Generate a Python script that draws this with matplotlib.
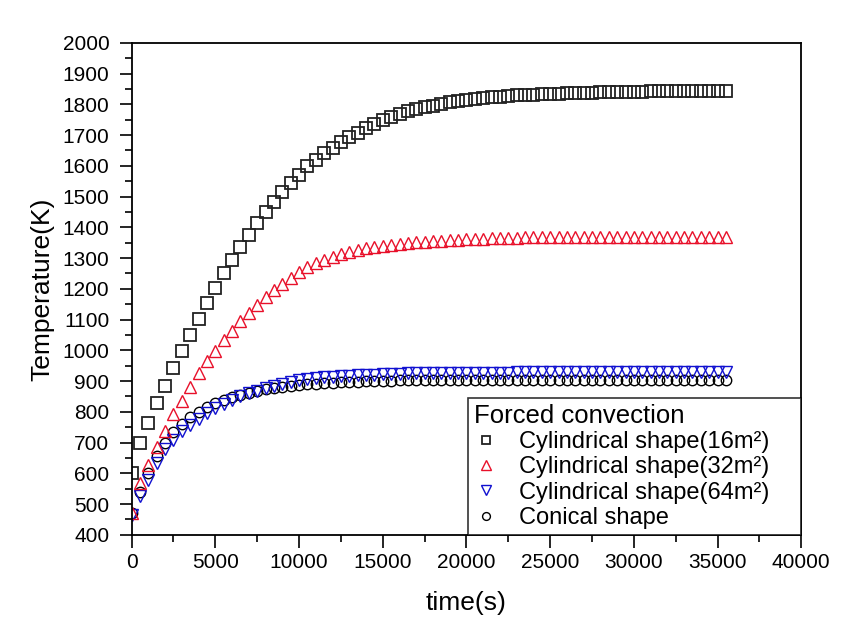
import matplotlib
matplotlib.use("Agg")
import matplotlib.pyplot as plt
from matplotlib.ticker import MultipleLocator

plt.rcParams['font.family'] = ['Liberation Sans', 'DejaVu Sans']

# sampling times (s)
time = list(range(0, 36000, 500))

cyl16 = [600, 698, 763, 828, 885, 943, 999, 1051, 1103, 1154, 1202, 1250,
         1294, 1336, 1376, 1414, 1449, 1482, 1514, 1544, 1571, 1598, 1620, 1641,
         1659, 1677, 1693, 1708, 1722, 1736, 1748, 1759, 1768, 1777, 1784, 1791,
         1796, 1801, 1806, 1810, 1814, 1817, 1820, 1823, 1825, 1827, 1829, 1830,
         1832, 1833, 1834, 1835, 1836, 1837, 1838, 1838, 1839, 1839, 1840, 1840,
         1841, 1841, 1842, 1842, 1842, 1842, 1842, 1842, 1842, 1842, 1842, 1842]

cyl32 = [470, 568, 628, 687, 738, 792, 836, 882, 926, 964, 999, 1034,
         1064, 1094, 1123, 1148, 1173, 1196, 1217, 1236, 1254, 1270, 1284, 1295,
         1305, 1314, 1321, 1327, 1332, 1336, 1340, 1343, 1346, 1349, 1351, 1353,
         1355, 1357, 1358, 1360, 1361, 1362, 1363, 1364, 1365, 1366, 1366, 1367,
         1367, 1368, 1368, 1368, 1369, 1369, 1369, 1369, 1369, 1370, 1370, 1370,
         1370, 1370, 1370, 1370, 1370, 1370, 1370, 1370, 1370, 1370, 1370, 1370]

cyl64 = [465, 525, 578, 635, 678, 710, 737, 758, 778, 796, 813, 827,
         839, 850, 860, 869, 877, 885, 891, 897, 902, 906, 909, 912,
         914, 916, 918, 919, 920, 921, 922, 923, 924, 925, 925, 926,
         926, 927, 927, 927, 927, 928, 928, 928, 928, 928, 929, 929,
         929, 929, 929, 930, 930, 930, 930, 930, 930, 930, 930, 931,
         931, 931, 931, 931, 931, 931, 931, 931, 931, 931, 931, 931]

conical = [470, 540, 600, 655, 700, 735, 762, 783, 800, 815, 828, 838,
           847, 855, 862, 868, 873, 877, 881, 884, 887, 889, 891, 893,
           895, 896, 897, 898, 899, 900, 901, 901, 902, 902, 903, 903,
           903, 903, 904, 904, 904, 904, 904, 904, 905, 905, 905, 905,
           905, 905, 905, 905, 905, 905, 905, 905, 905, 905, 905, 905,
           905, 905, 905, 905, 905, 905, 905, 905, 905, 905, 905, 905]

labels = ['Cylindrical shape(16m\u00b2)', 'Cylindrical shape(32m\u00b2)',
          'Cylindrical shape(64m\u00b2)', 'Conical shape']


def plot_chart():
	fig = plt.figure(figsize=(8.52, 6.30), dpi=100)
	ax = fig.add_axes([0.1545, 0.151, 0.786, 0.781])

	ax.plot(time, conical, 'o', ms=7.5, mfc='none', mec='black', mew=1.0, label=labels[3])
	ax.plot(time, cyl64, 'v', ms=9, mfc='none', mec='#1010d0', mew=1.0, label=labels[2])
	ax.plot(time, cyl32, '^', ms=9, mfc='none', mec='#e8102a', mew=1.0, label=labels[1])
	ax.plot(time, cyl16, 's', ms=8, mfc='none', mec='#222222', mew=1.3, label=labels[0])

	ax.set_xlim(0, 40000)
	ax.set_ylim(400, 2000)
	ax.xaxis.set_major_locator(MultipleLocator(5000))
	ax.xaxis.set_minor_locator(MultipleLocator(2500))
	ax.yaxis.set_major_locator(MultipleLocator(100))
	ax.yaxis.set_minor_locator(MultipleLocator(50))
	ax.tick_params(which='major', direction='out', length=9, width=1.2, labelsize=15)
	ax.tick_params(which='minor', direction='out', length=5, width=1.2)
	ax.tick_params(axis='y', which='major', pad=7)
	ax.tick_params(axis='x', which='major', pad=4)
	for sp in ax.spines.values():
		sp.set_linewidth(1.3)

	ax.set_xlabel('time(s)', fontsize=19, labelpad=14)
	ax.set_ylabel('Temperature(K)', fontsize=19, labelpad=6)

	h, l = ax.get_legend_handles_labels()
	order = [3, 2, 1, 0]
	leg = ax.legend([h[i] for i in order], [l[i] for i in order],
	                title='Forced convection', loc='lower left',
	                bbox_to_anchor=(0.503, 0.0, 0.497, 0.276), mode='expand',
	                fontsize=17, title_fontsize=18.5, alignment='left',
	                frameon=True, fancybox=False, edgecolor='black',
	                borderpad=0.25, labelspacing=0.14,
	                handlelength=1.0, handletextpad=0.9, borderaxespad=0.0,
	                markerscale=0.75)
	leg.get_frame().set_linewidth(1.2)

	fig.savefig('out.png', dpi=100)


def main():
	plot_chart()


if __name__ == "__main__":
	main()
